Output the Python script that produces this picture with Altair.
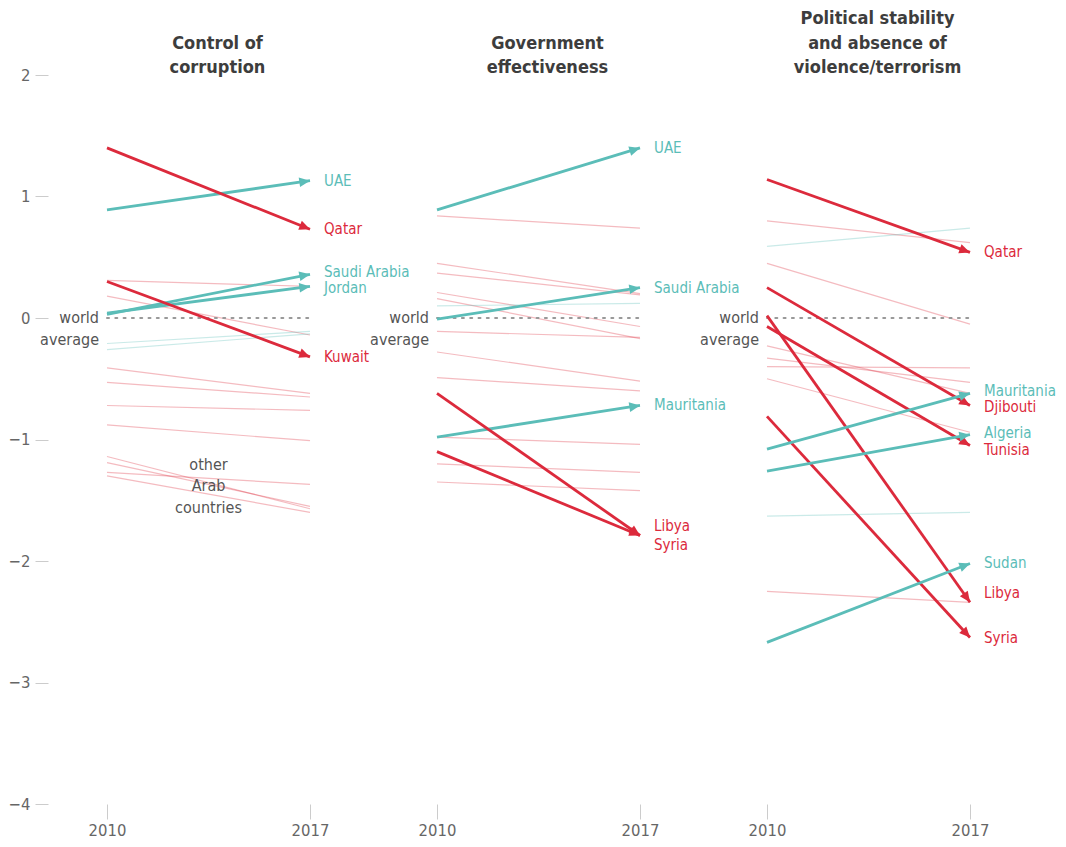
import math
import altair as alt
import pandas as pd

RED = "#dc2a3c"
TEAL = "#5bbdb8"
FONT = "Liberation Sans Narrow, DejaVu Sans Condensed, Roboto, sans-serif"

W = 203   # plot width of one panel (2010 -> 2017)
H = 729   # plot height (-4 -> 2)
Y_DOMAIN = [-4, 2]
PX_PER_UNIT = H / (Y_DOMAIN[1] - Y_DOMAIN[0])

years = [2010, 2017]
y_ticks = [-4, -3, -2, -1, 0, 1, 2]

titles = [
    ["Control of", "corruption"],
    ["Government", "effectiveness"],
    ["Political stability", "and absence of", "violence/terrorism"],
]

# --- Control of corruption ---
cc_names = ["UAE", "Qatar", "Saudi Arabia", "Jordan", "Kuwait"]
cc_2010 = [0.89, 1.40, 0.03, 0.04, 0.30]
cc_2017 = [1.13, 0.73, 0.36, 0.26, -0.32]
cc_other_2010 = [0.31, 0.18, -0.21, -0.26, -0.41, -0.53, -0.72, -0.88, -1.14, -1.19, -1.27, -1.30]
cc_other_2017 = [0.26, -0.14, -0.11, -0.13, -0.62, -0.65, -0.76, -1.01, -1.57, -1.55, -1.37, -1.60]

# --- Government effectiveness ---
ge_names = ["UAE", "Saudi Arabia", "Mauritania", "Libya", "Syria"]
ge_2010 = [0.89, -0.01, -0.98, -0.62, -1.10]
ge_2017 = [1.40, 0.25, -0.72, -1.79, -1.79]
ge_other_2010 = [0.84, 0.45, 0.37, 0.21, 0.16, 0.10, -0.11, -0.28, -0.49, -0.98, -1.20, -1.35]
ge_other_2017 = [0.74, 0.20, 0.19, -0.07, -0.17, 0.12, -0.16, -0.52, -0.60, -1.04, -1.27, -1.42]

# --- Political stability and absence of violence/terrorism ---
ps_names = ["Qatar", "Djibouti", "Tunisia", "Libya", "Syria", "Mauritania", "Algeria", "Sudan"]
ps_2010 = [1.14, 0.25, -0.07, 0.02, -0.81, -1.08, -1.26, -2.67]
ps_2017 = [0.54, -0.72, -1.05, -2.34, -2.63, -0.62, -0.96, -2.02]
ps_other_2010 = [0.80, 0.59, 0.45, -0.23, -0.33, -0.40, -0.50, -1.63, -2.25]
ps_other_2017 = [0.62, 0.74, -0.05, -0.62, -0.53, -0.41, -0.94, -1.60, -2.34]

# label nudges in pixels (layout only, to keep stacked labels apart)
cc_nudge = [0, 0, -2, 2, 0]
ge_nudge = [0, 0, 0, -9.5, 9.5]
ps_nudge = [0, 2, 4, -9, 0, -2.5, -2, 0]

ARROW = "M0,0L-1,-0.45L-1,0.45Z"
DIR = "datum.v2017 > datum.v2010 ? 'up' : 'down'"
ANGLE = f"(atan2((datum.v2010 - datum.v2017) * {PX_PER_UNIT}, {W}) * 180 / PI + 360) % 360"


def panel(title, names, v0, v1, o0, o1, nudge, first):
    hl = pd.DataFrame({"name": names, "v2010": v0, "v2017": v1, "nudge": nudge,
                       "start": years[0], "end": years[1]})
    bg = pd.DataFrame({"v2010": o0, "v2017": o1, "start": years[0], "end": years[1]})
    avg = pd.DataFrame({"start": [years[0]], "end": [years[1]], "v": [0.0]})

    xscale = alt.Scale(domain=years, nice=False, zero=False)
    yscale = alt.Scale(domain=Y_DOMAIN, nice=False, zero=False)
    x_axis = alt.Axis(values=years, format="d", title=None, domain=False, grid=False,
                      tickColor="#cccccc", tickSize=15, tickWidth=1, labelColor="#666666",
                      labelFontSize=16.5, labelFont=FONT, labelPadding=3, labelFlush=False)
    if first:
        y_axis = alt.Axis(values=y_ticks, format="d", title=None, domain=False, grid=False,
                          tickColor="#cccccc", tickSize=13, tickWidth=1, offset=59,
                          labelColor="#666666", labelFontSize=16.5, labelFont=FONT,
                          labelPadding=5, labelFlush=False)
    else:
        y_axis = None

    def X(f):
        return alt.X(f, type="quantitative", scale=xscale, axis=x_axis)

    def Y(f):
        return alt.Y(f, type="quantitative", scale=yscale, axis=y_axis)

    color = alt.Color("dir:N", scale=alt.Scale(domain=["up", "down"], range=[TEAL, RED]), legend=None)

    bg_rules = alt.Chart(bg).transform_calculate(dir=DIR).mark_rule(
        strokeWidth=1.2, opacity=0.32
    ).encode(x=X("start"), x2="end", y=Y("v2010"), y2="v2017", color=color)

    avg_rule = alt.Chart(avg).mark_rule(
        color="#999999", strokeWidth=2, strokeDash=[2, 6.3], strokeCap="round"
    ).encode(x=X("start"), x2="end", y=Y("v"))

    avg_text = alt.Chart(avg).mark_text(
        text=["world", "average"], align="right", baseline="alphabetic", dx=-8, dy=5,
        lineHeight=21.5, fontSize=16, font=FONT, color="#555555"
    ).encode(x=X("start"), y=Y("v"))

    hl_base = alt.Chart(hl).transform_calculate(dir=DIR)
    hl_rules = hl_base.mark_rule(strokeWidth=2.8).encode(
        x=X("start"), x2="end", y=Y("v2010"), y2="v2017", color=color)
    heads = hl_base.transform_calculate(ang=ANGLE).mark_point(
        shape=ARROW, size=460, filled=True, opacity=1, strokeWidth=0
    ).encode(x=X("end"), y=Y("v2017"), color=color, angle=alt.Angle("ang:Q", scale=None))
    labels = hl_base.transform_calculate(ly=f"datum.v2017 - datum.nudge / {PX_PER_UNIT}").mark_text(
        align="left", baseline="middle", dx=14, fontSize=15, font=FONT
    ).encode(x=X("end"), y=Y("ly"), text="name:N", color=color)

    layers = [bg_rules, avg_rule, avg_text, hl_rules, heads, labels]
    if first:
        other = alt.Chart(avg).mark_text(
            text=["other", "Arab", "countries"], align="center", baseline="alphabetic",
            lineHeight=21.5, fontSize=16, font=FONT, color="#555555"
        ).encode(x=alt.X(datum=2013.5, type="quantitative", scale=xscale, axis=x_axis),
                 y=alt.Y(datum=-1.25, type="quantitative", scale=yscale, axis=y_axis))
        layers.append(other)

    return alt.layer(*layers).properties(
        width=W, height=H,
        title=alt.TitleParams(text=title, fontSize=18, font=FONT, fontWeight="bold",
                              color="#3d3d3d", anchor="middle", frame="group",
                              lineHeight=24.5, offset=-10 if first else -2, dx=9),
    )


p1 = panel(titles[0], cc_names, cc_2010, cc_2017, cc_other_2010, cc_other_2017, cc_nudge, True)
p2 = panel(titles[1], ge_names, ge_2010, ge_2017, ge_other_2010, ge_other_2017, ge_nudge, False)
p3 = panel(titles[2], ps_names, ps_2010, ps_2017, ps_other_2010, ps_other_2017, ps_nudge, False)

chart = alt.hconcat(p1, p2, p3, spacing=127, bounds="flush").properties(
    padding={"left": 0, "top": 2, "right": 0, "bottom": 0}
).configure_view(stroke=None)

chart.save("out.html", embed_options={"renderer": "svg", "actions": False})
